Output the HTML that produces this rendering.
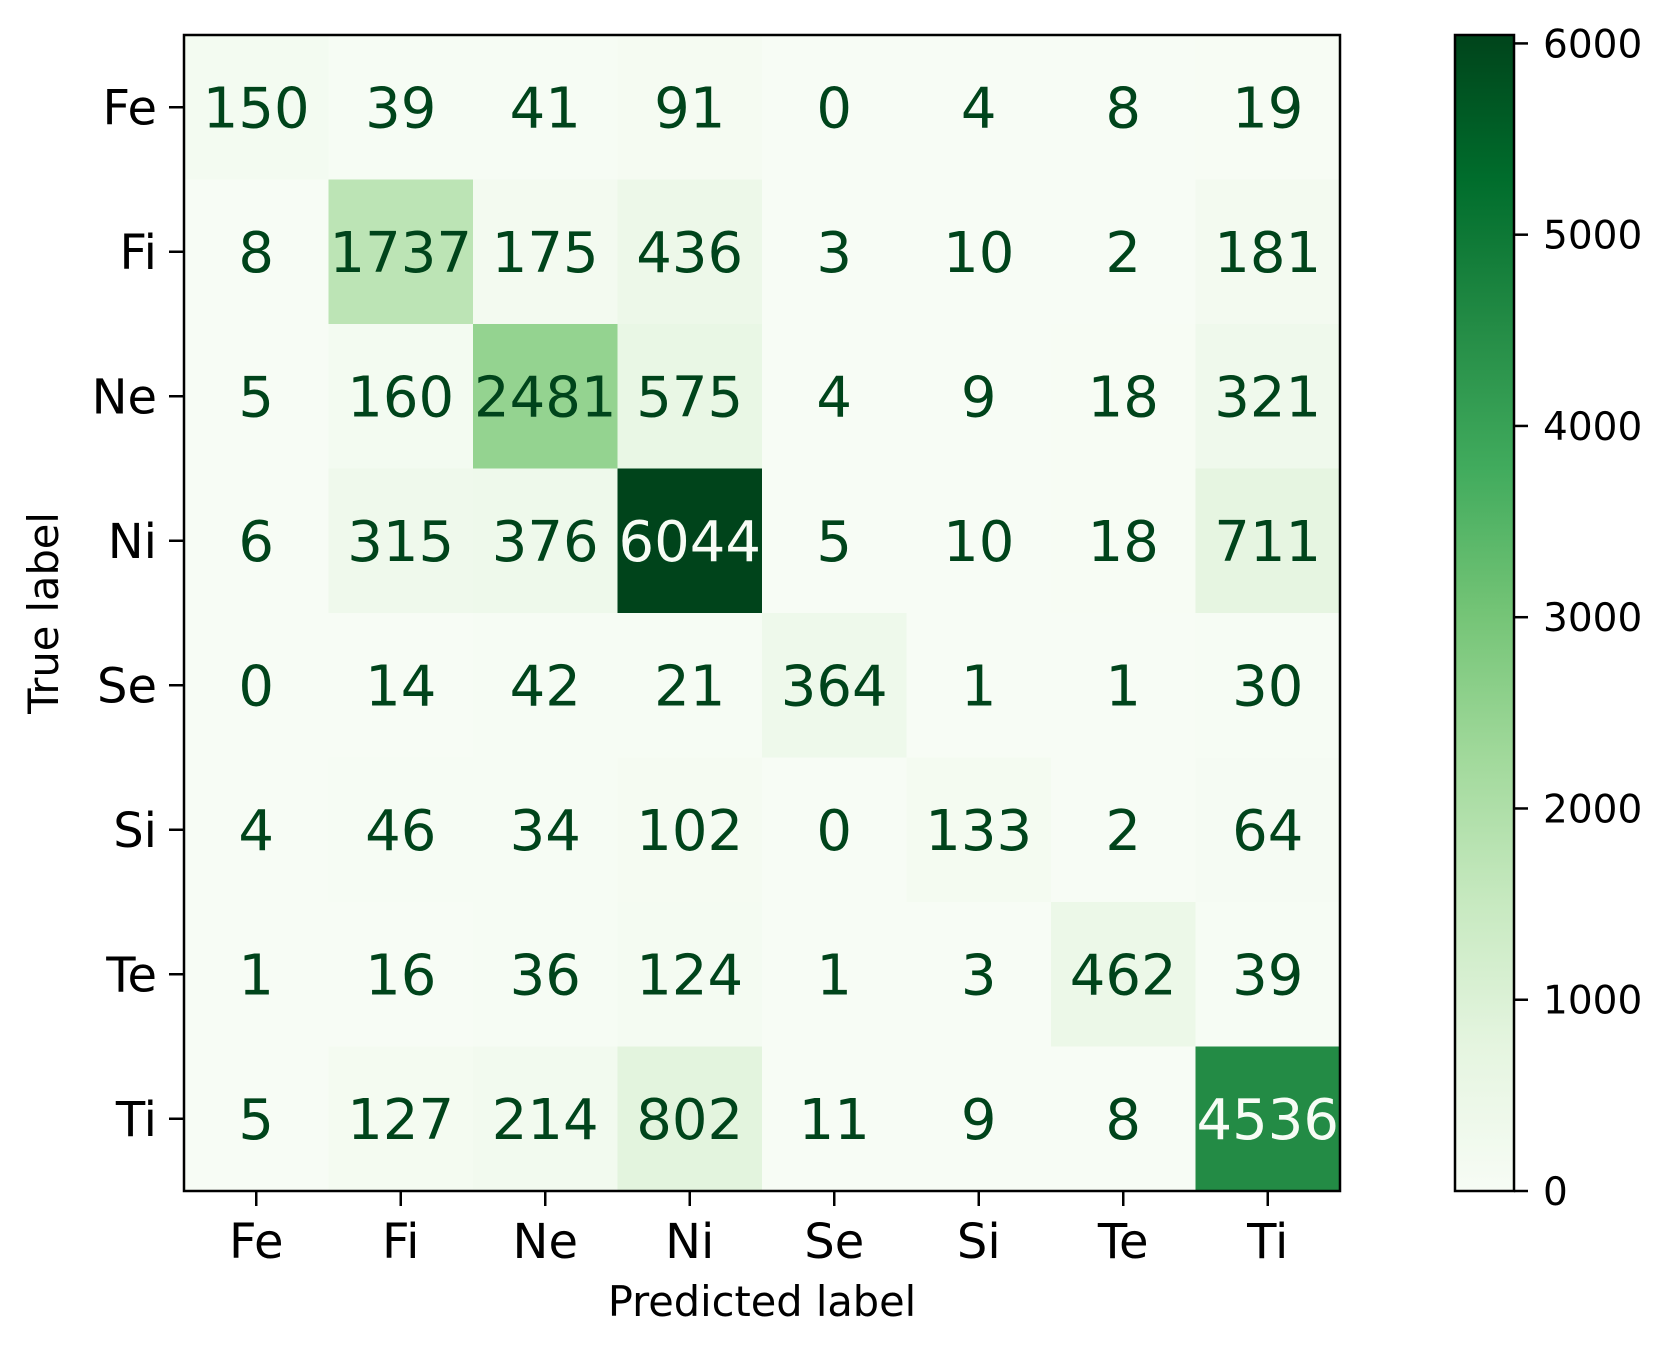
<!DOCTYPE html>
<html><head><meta charset="utf-8"><style>
html,body{margin:0;padding:0;background:#fff;}
svg{display:block;font-family:"DejaVu Sans","Liberation Sans",sans-serif;}
</style></head><body>
<svg id="chart" width="1678" height="1355" viewBox="0 0 1678 1355" xmlns="http://www.w3.org/2000/svg">
<defs><linearGradient id="cbgrad" x1="0" y1="1" x2="0" y2="0"></linearGradient></defs>
<g id="cells"></g>
<g id="axes"></g>
</svg>
<script>
const labels = ["Fe","Fi","Ne","Ni","Se","Si","Te","Ti"];
const row0 = [150,39,41,91,0,4,8,19];
const row1 = [8,1737,175,436,3,10,2,181];
const row2 = [5,160,2481,575,4,9,18,321];
const row3 = [6,315,376,6044,5,10,18,711];
const row4 = [0,14,42,21,364,1,1,30];
const row5 = [4,46,34,102,0,133,2,64];
const row6 = [1,16,36,124,1,3,462,39];
const row7 = [5,127,214,802,11,9,8,4536];
const cbTicks = [0,1000,2000,3000,4000,5000,6000];
const matrix = [row0,row1,row2,row3,row4,row5,row6,row7];

const NS="http://www.w3.org/2000/svg";
const L=184,T=35,R=1340,B=1191;
const n=labels.length, cw=(R-L)/n, ch=(B-T)/n;
const vmax=Math.max(...matrix.flat()), vmin=Math.min(...matrix.flat());
const stops=["#f7fcf5","#e5f5e0","#c7e9c0","#a1d99b","#74c476","#41ab5d","#238b45","#006d2c","#00441b"];
function hex(h){return [1,3,5].map(i=>parseInt(h.substr(i,2),16));}
function cmap(t){t=Math.max(0,Math.min(1,t));const p=t*(stops.length-1);const i=Math.min(Math.floor(p),stops.length-2);const f=p-i;const a=hex(stops[i]),b=hex(stops[i+1]);return "rgb("+a.map((v,k)=>Math.round(v+(b[k]-v)*f)).join(",")+")";}
const xs=j=>L+cw*j, ys=i=>T+ch*i;
function el(tag,attrs,parent){const e=document.createElementNS(NS,tag);for(const k in attrs)e.setAttribute(k,attrs[k]);parent.appendChild(e);return e;}
const cells=document.getElementById('cells'), axes=document.getElementById('axes');
matrix.forEach((row,i)=>row.forEach((v,j)=>{
  const t=(v-vmin)/(vmax-vmin);
  const r=el('rect',{x:xs(j),y:ys(i),width:cw+0.5,height:ch+0.5,fill:cmap(t)},cells);
  
  
  const tx=el('text',{x:xs(j)+cw/2,y:ys(i)+ch/2+20,'text-anchor':'middle','font-size':56,fill:t>0.5?'#f7fcf5':'#00441b'},cells);
  tx.textContent=v;
  
  
}));
const fr=el('rect',{x:L,y:T,width:R-L,height:B-T,fill:'none',stroke:'#000','stroke-width':2.5},axes);


labels.forEach((lab,k)=>{
  const cx=xs(k)+cw/2, cy=ys(k)+ch/2;
  el('line',{x1:cx,y1:B,x2:cx,y2:B+15,stroke:'#000','stroke-width':2.5},axes);
  const xt=el('text',{x:cx,y:B+67,'text-anchor':'middle','font-size':48,fill:'#000'},axes);
  xt.textContent=lab;
  
  
  el('line',{x1:L-15,y1:cy,x2:L,y2:cy,stroke:'#000','stroke-width':2.5},axes);
  const yt=el('text',{x:L-27,y:cy+17,'text-anchor':'end','font-size':48,fill:'#000'},axes);
  yt.textContent=lab;
  
  
});
const xl=el('text',{x:(L+R)/2,y:1316,'text-anchor':'middle','font-size':41.5,fill:'#000'},axes);
xl.textContent='Predicted label';


const yl=el('text',{x:0,y:0,'text-anchor':'middle','font-size':41.5,fill:'#000',transform:'translate(58,'+((T+B)/2)+') rotate(-90)'},axes);
yl.textContent='True label';


// colorbar
const grad=document.getElementById('cbgrad');
stops.forEach((c,k)=>el('stop',{offset:(k/(stops.length-1)),'stop-color':c},grad));
const CL=1455,CR=1514;
const cby=v=>B-(v-vmin)/(vmax-vmin)*(B-T);
const cb=el('rect',{x:CL,y:T,width:CR-CL,height:B-T,fill:'url(#cbgrad)',stroke:'#000','stroke-width':2.5},axes);


cbTicks.forEach(v=>{
  const y=cby(v);
  el('line',{x1:CR,y1:y,x2:CR+14,y2:y,stroke:'#000','stroke-width':2.5},axes);
  const t=el('text',{x:CR+29,y:y+14,'font-size':39,fill:'#000'},axes);
  t.textContent=v;
  
  
});
</script>
</body></html>
